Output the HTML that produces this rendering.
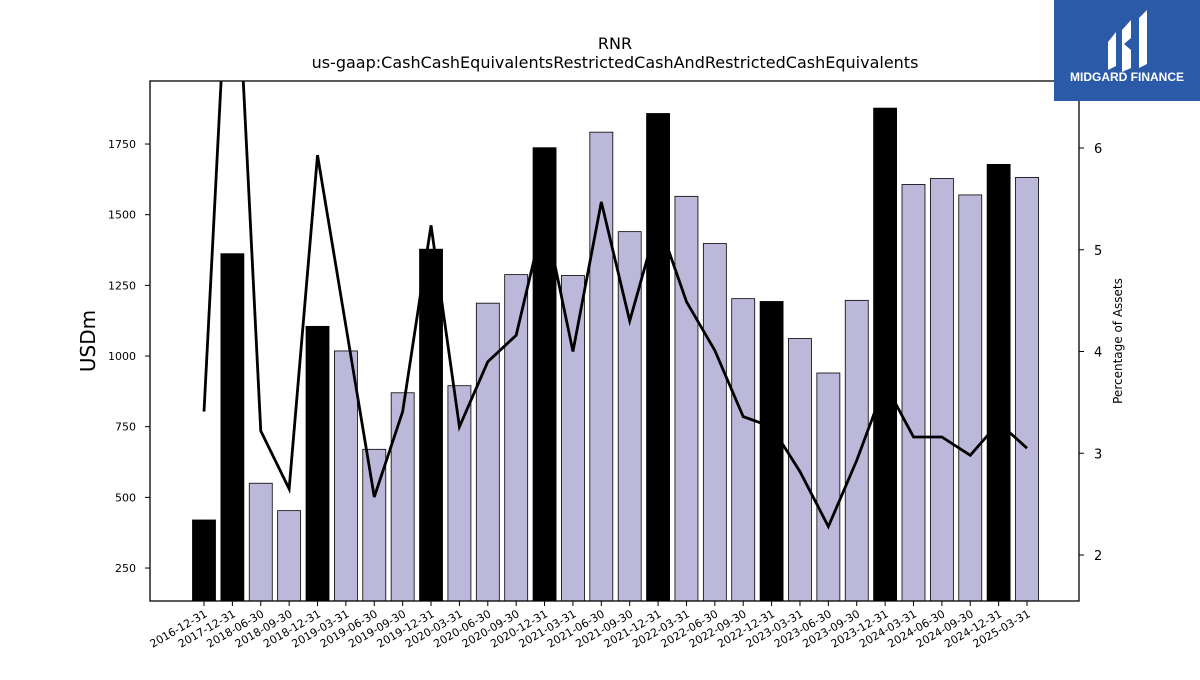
<!DOCTYPE html>
<html><head><meta charset="utf-8"><style>
body{margin:0;background:#fff;font-family:"Liberation Sans","DejaVu Sans",sans-serif;}
svg text{font-family:"DejaVu Sans","Liberation Sans",sans-serif;}
</style></head><body>
<svg id="chart" width="1200" height="675" xmlns="http://www.w3.org/2000/svg">
<text x="615" y="49" text-anchor="middle" font-size="16">RNR</text>
<text x="615" y="68" text-anchor="middle" font-size="16">us-gaap:CashCashEquivalentsRestrictedCashAndRestrictedCashEquivalents</text>
<g id="bars"></g>
<g id="line"></g>
<rect x="150" y="81" width="929" height="520" fill="none" stroke="#000" stroke-width="1.3"/>
<g id="ly"></g>
<g id="ry"></g>
<g id="xa"></g>
<text transform="translate(95,341) rotate(-90)" text-anchor="middle" font-size="20">USDm</text>
<text transform="translate(1122,341) rotate(-90)" text-anchor="middle" font-size="12">Percentage of Assets</text>
<g>
<rect x="1054" y="0" width="146" height="101" fill="#2b5aa8"/>
<path d="M1108 42 L1116 32 L1116 66 L1108 70 Z M1122 30 L1131 20 L1131 38 L1124 44 L1131 50 L1131 68 L1122 72 Z M1139 18 L1147 10 L1147 64 L1139 68 Z" fill="#fff"/>
<text x="1127" y="81" text-anchor="middle" font-size="12" font-weight="bold" fill="#fff" style="font-family:'Liberation Sans',sans-serif">MIDGARD FINANCE</text>
</g>
</svg>
<script>
const categories=["2016-12-31","2017-12-31","2018-06-30","2018-09-30","2018-12-31","2019-03-31","2019-06-30","2019-09-30","2019-12-31","2020-03-31","2020-06-30","2020-09-30","2020-12-31","2021-03-31","2021-06-30","2021-09-30","2021-12-31","2022-03-31","2022-06-30","2022-09-30","2022-12-31","2023-03-31","2023-06-30","2023-09-30","2023-12-31","2024-03-31","2024-06-30","2024-09-30","2024-12-31","2025-03-31"];
const cashValues=[420,1362,550,453,1105,1018,670,870,1378,895,1187,1288,1737,1285,1792,1440,1858,1565,1398,1203,1193,1062,940,1197,1877,1607,1628,1570,1678,1632];
const pctValues=[3.41,8.8,3.22,2.65,5.93,4.25,2.57,3.41,5.24,3.26,3.90,4.16,5.34,4.0,5.47,4.30,5.29,4.49,4.01,3.36,3.26,2.82,2.28,2.93,3.68,3.16,3.16,2.98,3.30,3.05];
const leftTicks=[250,500,750,1000,1250,1500,1750];
const rightTicks=[2,3,4,5,6];
const NS="http://www.w3.org/2000/svg";
const yL=v=>638.7-v*0.28267, yR=v=>148-(v-6)*101.75, xC=i=>204+i*28.38;
function mk(t,a,p){const e=document.createElementNS(NS,t);for(const k in a)e.setAttribute(k,a[k]);p.appendChild(e);return e;}
const bars=document.getElementById('bars');
cashValues.forEach((v,i)=>{const y=yL(v);const black=categories[i].endsWith("12-31");
const r=mk('rect',{x:xC(i)-11.5,y:y,width:23,height:601-y,fill:black?'#000':'#bcb8d9',stroke:'#000','stroke-width':0.8},bars);

});
const cp=document.createElementNS(NS,'clipPath');cp.id='clip';mk('rect',{x:150,y:81,width:929,height:520},cp);document.getElementById('chart').appendChild(cp);
const line=document.getElementById('line');line.setAttribute('clip-path','url(#clip)');
const pl=mk('polyline',{points:pctValues.map((v,i)=>xC(i)+','+yR(v)).join(' '),fill:'none',stroke:'#000','stroke-width':2.8},line);


const ly=document.getElementById('ly');
leftTicks.forEach(t=>{const y=yL(t);mk('line',{x1:145,x2:150,y1:y,y2:y,stroke:'#000'},ly);
const tx=mk('text',{x:136,y:y+4,'text-anchor':'end','font-size':11},ly);tx.textContent=t;

});
const ry=document.getElementById('ry');
rightTicks.forEach(t=>{const y=yR(t);mk('line',{x1:1079,x2:1084,y1:y,y2:y,stroke:'#000'},ry);
const tx=mk('text',{x:1094,y:y+5,'font-size':13},ry);tx.textContent=t;

});
const xa=document.getElementById('xa');
categories.forEach((c,i)=>{const x=xC(i);mk('line',{x1:x,x2:x,y1:601,y2:606,stroke:'#000'},xa);
const tx=mk('text',{transform:`translate(${x+4},${616}) rotate(-30)`,'text-anchor':'end','font-size':11},xa);tx.textContent=c;

});
</script>
</body></html>
